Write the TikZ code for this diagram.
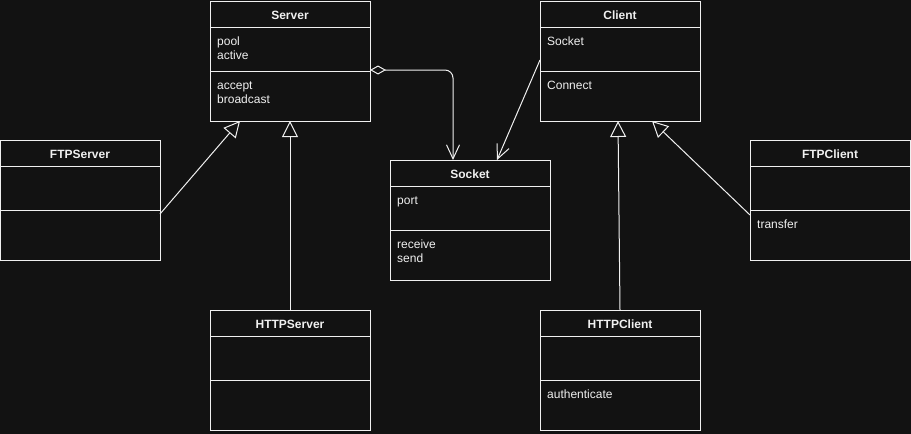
\documentclass[tikz,border=0pt]{standalone}
\usepackage{fontspec}
\setmainfont{Liberation Sans}
\usetikzlibrary{arrows.meta}
\definecolor{bg}{HTML}{121212}
\definecolor{fg}{HTML}{F0F0F0}
\newcommand\umlclass[6]{%
  \node[classbox, anchor=north west] (#1) at (#2,#3) {};
  \draw[divider] (#2,#3+26) -- (#2+160,#3+26);
  \draw[divider] (#2,#3+70) -- (#2+160,#3+70);
  \node[classtitle] (#1-t) at (#2+80,#3+18) {#4};
  \node[classtext] (#1-a) at (#2+7,#3+34) {\rule{0pt}{10pt}#5};
  \node[classtext] (#1-o) at (#2+7,#3+78) {\rule{0pt}{10pt}#6};
}
\begin{document}
\begin{tikzpicture}[x=1pt,y=-1pt,
  classbox/.style={draw=fg, line width=1pt, minimum width=160pt, minimum height=120pt, inner sep=0pt, outer sep=0pt},
  divider/.style={draw=fg, line width=1pt},
  classtitle/.style={anchor=base, inner sep=0pt, text=fg, font=\fontsize{12}{14}\selectfont\bfseries},
  classtext/.style={anchor=north west, inner sep=0pt, text=fg, align=left, font=\fontsize{12}{14}\selectfont},
  inherit/.style={draw=fg, line width=1pt, -{Triangle[open, length=16pt, width=16pt]}},
  assoc/.style={draw=fg, line width=1pt, -{Straight Barb[length=14pt, width=13pt]}},
  aggr/.style={draw=fg, line width=1pt, rounded corners=8pt, {Diamond[open, length=16pt, width=9pt]}-{Straight Barb[length=14pt, width=13pt]}}
]
\fill[bg] (0,0) rectangle (911,434);
\useasboundingbox (0,0) rectangle (911,434);

\umlclass{server}{210}{1}{Server}{pool\\active}{accept\\broadcast}
\umlclass{client}{540}{1}{Client}{Socket}{Connect}
\umlclass{ftpserver}{0}{140}{FTPServer}{}{}
\umlclass{ftpclient}{750}{140}{FTPClient}{}{transfer}
\umlclass{socket}{390}{160}{Socket}{port}{receive\\send}
\umlclass{httpserver}{210}{310}{HTTPServer}{}{}
\umlclass{httpclient}{540}{310}{HTTPClient}{}{authenticate}

\draw[inherit] ([yshift=-14pt]ftpserver.east) -- ([xshift=-50pt]server.south);
\draw[inherit] (httpserver.north) -- (server.south);
\draw[aggr] ([yshift=-9pt]server.east) -| ([xshift=-17pt]socket.north);
\draw[assoc] ([yshift=1pt]client.west) -- ([xshift=27pt]socket.north);
\draw[inherit] (httpclient.north) -- ([xshift=-2pt]client.south);
\draw[inherit] ([yshift=-15pt]ftpclient.west) -- ([xshift=32pt]client.south);
\end{tikzpicture}
\end{document}
